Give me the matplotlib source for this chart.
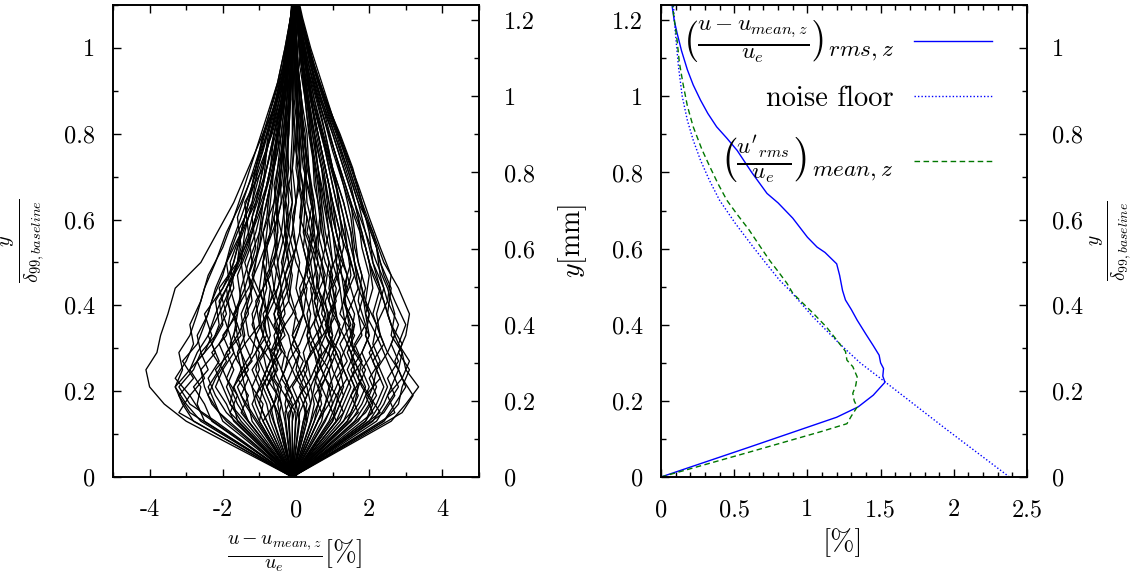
import matplotlib
matplotlib.use('Agg')
import matplotlib.pyplot as plt
from matplotlib.ticker import MultipleLocator, FixedLocator, FixedFormatter

# ---------------- data ----------------
# left panel: spanwise deviation profiles, x [%] at y/delta levels (two sampling grids)
x_origin = -0.1
y_levels_a = [0.0, 0.13, 0.17, 0.21, 0.25, 0.29, 0.33, 0.38, 0.44, 0.50,
              0.57, 0.64, 0.72, 0.80, 0.88, 0.96, 1.04, 1.10]
profiles_a = [
    [-3.0, -3.6, -4.0, -4.1, -3.8, -3.7, -3.5, -3.3, -2.6, -2.15, -1.7, -1.3, -0.9, -0.5, -0.25, -0.1, -0.05],
    [-2.6, -3.0, -3.3, -3.1, -3.2, -2.9, -2.7, -2.5, -2.2, -1.9, -1.5, -1.1, -0.8, -0.55, -0.35, -0.2, -0.1],
    [-2.2, -2.9, -3.2, -2.8, -2.6, -2.7, -2.4, -2.2, -1.9, -1.6, -1.2, -0.95, -0.7, -0.45, -0.3, -0.15, -0.08],
    [-2.5, -2.7, -2.6, -2.9, -2.5, -2.3, -2.5, -2.0, -1.7, -1.5, -1.3, -1.0, -0.65, -0.4, -0.2, -0.12, -0.1],
    [-2.3, -2.5, -2.8, -2.4, -2.6, -2.2, -1.9, -2.1, -1.6, -1.3, -1.4, -0.9, -0.75, -0.5, -0.3, -0.18, -0.1],
    [-1.9, -2.3, -2.5, -2.6, -2.2, -2.4, -2.1, -1.8, -1.9, -1.5, -1.1, -0.8, -0.6, -0.35, -0.25, -0.15, -0.12],
    [-2.0, -2.2, -2.4, -2.1, -1.9, -1.6, -1.7, -1.3, -1.0, -0.7, -0.5, -0.4, -0.3, -0.2, -0.15, -0.1, -0.08],
    [-1.7, -1.9, -2.2, -2.0, -2.3, -1.9, -1.8, -1.9, -1.5, -1.4, -1.2, -1.05, -0.8, -0.55, -0.35, -0.2, -0.1],
    [-1.5, -1.8, -2.0, -2.2, -1.8, -2.0, -1.6, -1.5, -1.3, -1.0, -0.9, -0.65, -0.5, -0.3, -0.2, -0.1, -0.05],
    [-1.6, -1.7, -1.9, -1.7, -1.9, -1.5, -1.7, -1.4, -1.5, -1.2, -1.0, -0.8, -0.55, -0.4, -0.22, -0.12, -0.1],
    [-1.4, -1.8, -1.7, -1.4, -1.1, -0.8, -0.9, -0.5, -0.3, -0.1, 0.0, 0.1, 0.05, 0.0, -0.05, -0.05, -0.05],
    [-1.3, -1.5, -1.7, -1.5, -1.6, -1.4, -1.5, -1.2, -1.1, -1.0, -0.8, -0.6, -0.5, -0.35, -0.2, -0.15, -0.1],
    [-1.1, -1.4, -1.6, -1.3, -1.5, -1.6, -1.3, -1.4, -1.2, -1.3, -1.1, -0.9, -0.7, -0.45, -0.25, -0.12, -0.08],
    [-1.2, -1.3, -1.4, -1.5, -1.2, -1.1, -1.2, -0.9, -0.8, -0.9, -0.6, -0.5, -0.4, -0.3, -0.2, -0.1, -0.1],
    [-0.9, -1.1, -1.2, -1.4, -1.5, -1.7, -1.6, -1.8, -1.6, -1.5, -1.3, -1.1, -0.9, -0.6, -0.35, -0.2, -0.1],
    [-1.0, -0.9, -1.2, -1.0, -1.1, -0.9, -1.0, -0.8, -0.9, -0.7, -0.6, -0.45, -0.35, -0.25, -0.15, -0.1, -0.08],
    [-0.8, -1.0, -0.9, -0.7, -0.4, -0.5, -0.1, 0.2, 0.3, 0.5, 0.45, 0.35, 0.3, 0.15, 0.05, 0.0, -0.05],
    [-0.7, -0.8, -1.0, -0.8, -0.9, -0.7, -0.8, -0.6, -0.7, -0.5, -0.5, -0.4, -0.3, -0.2, -0.15, -0.1, -0.1],
    [-0.6, -0.7, -0.9, -1.1, -1.0, -1.3, -1.4, -1.2, -1.4, -1.1, -0.9, -0.7, -0.6, -0.4, -0.3, -0.15, -0.1],
    [-0.5, -0.6, -0.8, -0.6, -0.7, -0.5, -0.6, -0.4, -0.5, -0.3, -0.35, -0.25, -0.2, -0.15, -0.1, -0.08, -0.05],
    [-0.5, -0.4, -0.6, -0.7, -0.5, -0.6, -0.3, -0.4, -0.2, -0.3, -0.1, -0.15, -0.1, -0.1, -0.05, -0.05, -0.05],
    [-0.4, -0.5, -0.4, -0.6, -0.7, -0.9, -0.8, -1.0, -0.9, -0.8, -0.7, -0.6, -0.5, -0.35, -0.25, -0.15, -0.1],
    [-0.3, -0.4, -0.5, -0.3, -0.2, 0.0, 0.2, 0.1, 0.4, 0.6, 0.7, 0.6, 0.45, 0.3, 0.15, 0.05, 0.0],
    [-0.2, -0.3, -0.2, -0.4, -0.3, -0.5, -0.4, -0.6, -0.5, -0.6, -0.4, -0.45, -0.3, -0.25, -0.2, -0.12, -0.1],
    [-0.2, -0.1, -0.3, -0.1, 0.1, -0.1, 0.2, 0.0, 0.1, -0.1, 0.0, -0.1, -0.05, -0.1, -0.05, -0.08, -0.05],
    [-0.1, 0.0, -0.2, -0.4, -0.6, -0.5, -0.8, -0.7, -0.9, -0.7, -0.8, -0.6, -0.4, -0.3, -0.2, -0.1, -0.1],
    [0.0, 0.1, -0.1, 0.2, 0.4, 0.3, 0.6, 0.8, 0.7, 0.9, 0.8, 0.7, 0.5, 0.35, 0.2, 0.1, 0.0],
    [0.1, 0.0, 0.2, 0.0, 0.1, -0.1, 0.0, -0.2, -0.1, -0.3, -0.2, -0.25, -0.2, -0.15, -0.12, -0.1, -0.08],
    [0.2, 0.3, 0.1, 0.3, 0.2, 0.4, 0.3, 0.5, 0.3, 0.4, 0.2, 0.25, 0.15, 0.1, 0.05, 0.0, -0.02],
    [0.2, 0.4, 0.3, 0.1, -0.1, -0.2, -0.5, -0.4, -0.6, -0.5, -0.55, -0.4, -0.35, -0.25, -0.15, -0.1, -0.05],
    [0.3, 0.4, 0.5, 0.6, 0.8, 1.0, 0.9, 1.2, 1.1, 1.0, 0.9, 0.75, 0.55, 0.4, 0.25, 0.1, 0.02],
    [0.4, 0.5, 0.4, 0.6, 0.5, 0.3, 0.4, 0.2, 0.3, 0.1, 0.15, 0.0, 0.05, -0.05, -0.05, -0.08, -0.05],
    [0.5, 0.6, 0.7, 0.5, 0.7, 0.6, 0.8, 0.6, 0.5, 0.6, 0.4, 0.35, 0.2, 0.15, 0.05, 0.0, -0.03],
    [0.5, 0.7, 0.6, 0.8, 1.0, 1.2, 1.4, 1.3, 1.5, 1.3, 1.1, 0.9, 0.7, 0.45, 0.3, 0.15, 0.05],
    [0.6, 0.8, 0.9, 0.7, 0.6, 0.4, 0.2, 0.3, 0.0, -0.2, -0.1, -0.3, -0.2, -0.2, -0.15, -0.1, -0.08],
    [0.7, 0.8, 1.0, 0.9, 1.1, 0.9, 1.0, 0.8, 0.9, 0.7, 0.6, 0.5, 0.35, 0.25, 0.1, 0.05, 0.0],
    [0.8, 1.0, 0.9, 1.1, 1.3, 1.5, 1.4, 1.7, 1.6, 1.5, 1.3, 1.0, 0.8, 0.55, 0.3, 0.15, 0.05],
    [0.9, 1.1, 1.2, 1.0, 0.9, 1.0, 0.7, 0.8, 0.6, 0.5, 0.3, 0.25, 0.15, 0.05, 0.0, -0.05, -0.05],
    [1.0, 1.1, 1.3, 1.2, 1.0, 1.2, 1.1, 0.9, 1.0, 0.8, 0.7, 0.55, 0.4, 0.3, 0.15, 0.05, 0.0],
    [1.0, 1.2, 1.4, 1.6, 1.5, 1.8, 1.7, 1.9, 1.7, 1.6, 1.5, 1.2, 0.9, 0.6, 0.35, 0.15, 0.05],
    [1.1, 1.3, 1.5, 1.3, 1.2, 0.9, 0.8, 0.5, 0.4, 0.2, 0.25, 0.1, 0.1, 0.0, -0.05, -0.05, -0.05],
    [1.2, 1.4, 1.6, 1.4, 1.6, 1.4, 1.3, 1.2, 1.0, 0.9, 0.75, 0.6, 0.45, 0.3, 0.15, 0.05, 0.0],
    [1.3, 1.5, 1.7, 1.5, 1.8, 2.0, 1.9, 2.1, 2.0, 1.8, 1.6, 1.3, 1.0, 0.65, 0.4, 0.2, 0.05],
    [1.4, 1.6, 1.7, 1.9, 1.6, 1.5, 1.6, 1.3, 1.2, 1.0, 0.8, 0.6, 0.5, 0.3, 0.2, 0.1, 0.0],
    [1.4, 1.7, 1.9, 1.7, 1.5, 1.3, 1.0, 1.1, 0.8, 0.6, 0.5, 0.35, 0.2, 0.1, 0.05, 0.0, -0.03],
    [1.5, 1.8, 2.0, 1.8, 2.1, 1.9, 2.0, 1.8, 1.6, 1.5, 1.3, 1.0, 0.75, 0.5, 0.3, 0.15, 0.03],
    [1.6, 1.9, 2.1, 2.2, 2.0, 2.3, 2.1, 2.3, 2.1, 1.9, 1.7, 1.4, 1.1, 0.75, 0.45, 0.2, 0.05],
    [1.7, 2.0, 2.2, 2.0, 1.8, 2.0, 1.7, 1.5, 1.3, 1.1, 0.9, 0.7, 0.5, 0.35, 0.2, 0.1, 0.0],
    [1.9, 2.2, 2.4, 2.2, 2.5, 2.3, 2.2, 2.4, 2.1, 2.0, 1.8, 1.55, 1.2, 0.8, 0.5, 0.25, 0.05],
    [2.0, 2.3, 2.5, 2.3, 2.1, 1.9, 2.0, 1.7, 1.5, 1.2, 1.0, 0.8, 0.6, 0.4, 0.25, 0.1, 0.0],
    [2.1, 2.4, 2.6, 2.8, 2.5, 2.7, 2.5, 2.6, 2.3, 2.1, 1.8, 1.5, 1.15, 0.8, 0.45, 0.2, 0.05],
    [2.2, 2.5, 2.8, 2.6, 2.4, 2.2, 1.9, 1.8, 1.6, 1.4, 1.2, 0.95, 0.7, 0.45, 0.25, 0.1, 0.0],
    [2.4, 2.7, 3.0, 2.8, 2.9, 2.6, 2.7, 2.5, 2.2, 1.9, 1.6, 1.3, 1.0, 0.7, 0.4, 0.2, 0.05],
    [2.4, 2.8, 2.9, 3.1, 2.8, 3.0, 3.1, 2.8, 2.4, 2.1, 1.7, 1.4, 1.05, 0.7, 0.4, 0.2, 0.05],
    [2.6, 3.0, 3.35, 3.0, 2.9, 2.7, 2.5, 2.3, 2.0, 1.8, 1.5, 1.2, 0.9, 0.6, 0.35, 0.15, 0.05],
    [-2.8, -3.1, -3.3, -2.9, -2.7, -2.4, -2.2, -1.9, -1.6, -1.2, -0.9, -0.7, -0.5, -0.3, -0.2, -0.12, -0.08],
    [-0.4, -0.6, -0.5, -0.8, -0.6, -0.4, -0.6, -0.3, -0.1, 0.1, 0.2, 0.3, 0.2, 0.15, 0.05, 0.0, -0.03],
    [0.6, 0.9, 1.1, 1.3, 1.1, 0.8, 0.9, 0.6, 0.7, 0.4, 0.5, 0.3, 0.25, 0.1, 0.05, 0.0, -0.03],
    [-1.0, -1.2, -1.0, -1.2, -0.9, -1.1, -0.8, -0.9, -0.6, -0.4, -0.3, -0.1, 0.0, 0.05, 0.0, -0.03, -0.05],
    [0.3, 0.2, 0.4, 0.2, 0.4, 0.7, 0.5, 0.4, 0.6, 0.3, 0.45, 0.2, 0.1, 0.05, 0.0, -0.05, -0.05],
    [-1.3, -1.6, -1.8, -2.0, -1.7, -1.8, -2.0, -1.7, -1.8, -1.5, -1.3, -1.1, -0.85, -0.55, -0.3, -0.15, -0.08],
    [1.9, 2.1, 1.8, 1.6, 1.4, 1.6, 1.2, 1.4, 1.1, 1.2, 1.0, 0.8, 0.6, 0.4, 0.2, 0.1, 0.0],
    [-0.9, -0.6, -0.8, -0.5, -0.7, -0.3, -0.5, -0.2, -0.4, -0.2, -0.3, -0.2, -0.25, -0.15, -0.1, -0.1, -0.05],
    [1.1, 0.9, 0.7, 0.9, 0.6, 0.8, 1.1, 1.0, 1.3, 1.1, 1.0, 0.8, 0.6, 0.4, 0.25, 0.1, 0.02],
]
y_levels_b = [0.0, 0.15, 0.19, 0.23, 0.27, 0.31, 0.355, 0.41, 0.47, 0.535,
              0.605, 0.68, 0.76, 0.84, 0.92, 1.00, 1.07, 1.12]
profiles_b = [
    [-3.2, -2.9, -3.3, -3.0, -2.8, -2.9, -2.6, -2.4, -2.0, -1.7, -1.4, -1.1, -0.8, -0.5, -0.3, -0.15, -0.08],
    [-2.6, -2.9, -2.5, -2.7, -2.3, -2.1, -2.2, -1.8, -1.6, -1.3, -1.0, -0.8, -0.55, -0.35, -0.2, -0.12, -0.1],
    [-2.1, -2.4, -2.2, -1.9, -2.1, -1.8, -1.5, -1.6, -1.3, -1.1, -0.9, -0.7, -0.5, -0.3, -0.2, -0.1, -0.08],
    [-1.8, -1.6, -1.9, -1.7, -1.4, -1.5, -1.2, -1.3, -1.0, -0.8, -0.7, -0.5, -0.4, -0.25, -0.15, -0.1, -0.08],
    [-1.5, -1.3, -1.6, -1.2, -1.4, -1.0, -1.1, -0.7, -0.8, -0.5, -0.6, -0.4, -0.3, -0.2, -0.12, -0.1, -0.08],
    [-1.2, -1.5, -1.3, -1.6, -1.8, -1.6, -1.9, -1.7, -1.5, -1.6, -1.3, -1.0, -0.75, -0.5, -0.3, -0.15, -0.1],
    [-0.9, -1.1, -0.8, -1.0, -0.7, -0.9, -0.6, -0.8, -0.5, -0.6, -0.4, -0.3, -0.25, -0.15, -0.1, -0.08, -0.05],
    [-0.7, -0.5, -0.8, -0.6, -0.4, -0.6, -0.2, -0.3, 0.0, -0.1, 0.1, 0.0, 0.05, 0.0, -0.03, -0.05, -0.05],
    [-0.5, -0.7, -0.9, -0.7, -1.0, -1.2, -1.0, -1.3, -1.1, -1.2, -0.9, -0.8, -0.6, -0.4, -0.25, -0.12, -0.1],
    [-0.3, -0.1, -0.4, -0.2, -0.5, -0.3, -0.6, -0.4, -0.3, -0.5, -0.3, -0.35, -0.2, -0.15, -0.1, -0.08, -0.05],
    [-0.1, -0.3, 0.0, -0.2, 0.1, 0.3, 0.1, 0.4, 0.2, 0.3, 0.1, 0.15, 0.05, 0.0, -0.02, -0.05, -0.05],
    [0.1, 0.3, 0.0, 0.2, -0.1, 0.1, -0.2, -0.1, -0.3, -0.2, -0.35, -0.25, -0.2, -0.15, -0.12, -0.1, -0.08],
    [0.3, 0.1, 0.4, 0.6, 0.4, 0.7, 0.5, 0.8, 0.6, 0.7, 0.5, 0.45, 0.3, 0.2, 0.1, 0.03, 0.0],
    [0.5, 0.7, 0.5, 0.8, 1.0, 0.8, 1.1, 0.9, 1.2, 1.0, 0.9, 0.7, 0.5, 0.35, 0.2, 0.08, 0.0],
    [0.7, 0.5, 0.8, 0.6, 0.9, 0.7, 0.5, 0.6, 0.4, 0.5, 0.3, 0.2, 0.15, 0.05, 0.0, -0.03, -0.05],
    [0.9, 1.1, 0.8, 1.0, 0.7, 0.5, 0.6, 0.3, 0.4, 0.1, 0.2, 0.0, -0.05, -0.1, -0.08, -0.08, -0.05],
    [1.1, 1.3, 1.1, 1.4, 1.2, 1.5, 1.3, 1.6, 1.4, 1.3, 1.1, 0.9, 0.7, 0.45, 0.25, 0.1, 0.02],
    [1.3, 1.1, 1.4, 1.2, 1.0, 1.2, 0.9, 1.0, 0.8, 0.7, 0.6, 0.45, 0.35, 0.2, 0.1, 0.03, 0.0],
    [1.5, 1.7, 1.5, 1.8, 1.6, 1.9, 1.7, 1.8, 1.6, 1.5, 1.3, 1.05, 0.8, 0.55, 0.3, 0.12, 0.03],
    [1.7, 1.5, 1.8, 1.6, 1.4, 1.6, 1.3, 1.4, 1.1, 0.9, 0.8, 0.6, 0.4, 0.25, 0.12, 0.05, 0.0],
    [1.9, 2.2, 2.0, 2.3, 2.1, 2.2, 1.9, 2.0, 1.8, 1.7, 1.5, 1.2, 0.9, 0.6, 0.35, 0.15, 0.03],
    [2.1, 1.9, 2.3, 2.1, 2.4, 2.2, 2.5, 2.3, 2.2, 1.9, 1.6, 1.3, 1.0, 0.7, 0.4, 0.18, 0.05],
    [2.4, 2.7, 2.5, 2.8, 2.6, 2.8, 2.5, 2.6, 2.3, 2.0, 1.7, 1.35, 1.0, 0.65, 0.35, 0.15, 0.03],
    [2.7, 2.5, 2.9, 3.1, 2.8, 3.0, 2.7, 2.4, 2.2, 1.9, 1.6, 1.3, 0.95, 0.6, 0.35, 0.15, 0.03],
    [2.9, 3.2, 2.9, 2.7, 2.9, 2.6, 2.4, 2.1, 1.9, 1.6, 1.3, 1.0, 0.75, 0.5, 0.3, 0.12, 0.02],
    [-2.9, -3.2, -2.8, -3.1, -2.7, -2.5, -2.3, -2.0, -1.8, -1.5, -1.2, -0.9, -0.65, -0.4, -0.25, -0.12, -0.08],
    [-0.2, 0.1, 0.4, 0.3, 0.6, 0.9, 0.8, 1.1, 1.3, 1.2, 1.1, 0.85, 0.6, 0.4, 0.22, 0.08, 0.0],
    [0.0, -0.3, -0.6, -0.5, -0.8, -1.0, -0.9, -1.2, -1.0, -0.9, -0.7, -0.55, -0.4, -0.3, -0.2, -0.1, -0.08],
    [2.3, 2.0, 1.7, 1.8, 1.5, 1.6, 1.3, 1.5, 1.4, 1.2, 1.0, 0.8, 0.55, 0.35, 0.2, 0.08, 0.0],
    [-1.9, -2.2, -2.4, -2.1, -2.3, -2.0, -2.1, -1.7, -1.4, -1.1, -0.8, -0.6, -0.45, -0.3, -0.2, -0.1, -0.08],
]

# right panel (x in %, y in mm)
rms_x = [0, 0.6, 1.2, 1.346, 1.45, 1.53, 1.515, 1.52, 1.50, 1.49, 1.45, 1.40, 1.34, 1.30, 1.26,
         1.24, 1.22, 1.20, 1.12, 1.066, 1.0, 0.90, 0.80, 0.724, 0.62, 0.52, 0.45, 0.38, 0.32,
         0.27, 0.22, 0.18, 0.14, 0.11, 0.09, 0.075]
rms_y = [0, 0.078, 0.157, 0.184, 0.215, 0.249, 0.265, 0.285, 0.300, 0.32, 0.345, 0.375, 0.412,
         0.44, 0.465, 0.49, 0.53, 0.56, 0.59, 0.604, 0.63, 0.68, 0.72, 0.745, 0.80, 0.858, 0.89,
         0.92, 0.955, 0.99, 1.03, 1.07, 1.12, 1.166, 1.20, 1.24]
noise_x = [2.38, 1.95, 1.53, 1.36, 1.22, 1.04, 0.88, 0.81, 0.72, 0.63, 0.51, 0.40, 0.33, 0.27,
           0.22, 0.18, 0.145, 0.12, 0.095, 0.085]
noise_y = [0, 0.125, 0.25, 0.30, 0.35, 0.42, 0.49, 0.517, 0.56, 0.604, 0.665, 0.727, 0.78, 0.832,
           0.885, 0.937, 1.0, 1.076, 1.18, 1.24]
mean_x = [0, 0.6, 1.1, 1.27, 1.30, 1.34, 1.32, 1.31, 1.33, 1.34, 1.31, 1.27, 1.26, 1.2, 1.13, 1.04,
          0.96, 0.90, 0.86, 0.80, 0.74, 0.68, 0.60, 0.52, 0.45, 0.39, 0.335, 0.28, 0.22, 0.18,
          0.15, 0.125, 0.11, 0.085, 0.08]
mean_y = [0, 0.065, 0.12, 0.14, 0.16, 0.184, 0.20, 0.22, 0.24, 0.263, 0.29, 0.307, 0.33, 0.36,
          0.394, 0.43, 0.46, 0.483, 0.509, 0.54, 0.57, 0.604, 0.65, 0.69, 0.727, 0.77, 0.814,
          0.86, 0.92, 0.975, 1.034, 1.09, 1.147, 1.218, 1.24]

left_xticks = [-4, -2, 0, 2, 4]
left_xlabels = ['-4', '-2', '0', '2', '4']
delta_ticks = [0, 0.2, 0.4, 0.6, 0.8, 1.0]
delta_labels = ['0', '0.2', '0.4', '0.6', '0.8', '1']
mm_ticks = [0, 0.2, 0.4, 0.6, 0.8, 1.0, 1.2]
mm_labels = ['0', '0.2', '0.4', '0.6', '0.8', '1', '1.2']
right_xticks = [0, 0.5, 1.0, 1.5, 2.0, 2.5]
right_xlabels = ['0', '0.5', '1', '1.5', '2', '2.5']
legend_labels = [r'$\left(\frac{u-u_{mean,z}}{u_e}\right)_{rms,z}$',
                 'noise floor',
                 r"$\left(\frac{u'_{rms}}{u_e}\right)_{mean,z}$"]

# ---------------- style ----------------
plt.rcParams.update({
    'font.family': 'serif', 'font.serif': ['cmr10'], 'mathtext.fontset': 'cm',
    'axes.formatter.use_mathtext': True, 'font.size': 17.5, 'axes.linewidth': 1.2,
    'xtick.direction': 'in', 'ytick.direction': 'in',
    'xtick.major.size': 6, 'ytick.major.size': 6,
    'xtick.minor.size': 3.5, 'ytick.minor.size': 3.5,
    'xtick.major.width': 1.0, 'ytick.major.width': 1.0,
    'xtick.minor.width': 1.0, 'ytick.minor.width': 1.0,
})

fig = plt.figure(figsize=(11.36, 5.76), dpi=100)
W, H = 1136, 576
axL = fig.add_axes([113 / W, (H - 477) / H, 366 / W, 472 / H])
axR = fig.add_axes([661 / W, (H - 477) / H, 366 / W, 472 / H])

ymax_delta = 1.1
ymax_mm = 1.24

# left panel
for p in profiles_a:
    axL.plot([x_origin] + p, y_levels_a, color='black', lw=0.95)
for p in profiles_b:
    axL.plot([x_origin] + p, y_levels_b, color='black', lw=0.95)
axL.set_xlim(-5, 5)
axL.set_ylim(0, ymax_delta)
axL.xaxis.set_major_locator(FixedLocator(left_xticks))
axL.xaxis.set_major_formatter(FixedFormatter(left_xlabels))
axL.xaxis.set_minor_locator(MultipleLocator(1))
axL.yaxis.set_major_locator(FixedLocator(delta_ticks))
axL.yaxis.set_major_formatter(FixedFormatter(delta_labels))
axL.yaxis.set_minor_locator(MultipleLocator(0.1))
axL.tick_params(which='both', top=True, right=False)
axL.tick_params(axis='y', pad=13)
axL.tick_params(axis='x', pad=16)
axL.set_ylabel(r'$\frac{y}{\delta_{99,baseline}}$', fontsize=21)
axL.yaxis.set_label_coords(-0.183, 0.5)
axL.set_xlabel(r'$\frac{u-u_{mean,z}}{u_e}$[%]', fontsize=20.5)
axL.xaxis.set_label_coords(0.497, -0.118)

axL2 = axL.twinx()
axL2.set_ylim(0, ymax_mm)
axL2.yaxis.set_major_locator(FixedLocator(mm_ticks))
axL2.yaxis.set_major_formatter(FixedFormatter(mm_labels))
axL2.yaxis.set_minor_locator(MultipleLocator(0.1))
axL2.tick_params(axis='y', which='both', right=True, left=False, pad=18)

# right panel
axR.plot(rms_x, rms_y, color='#0000ff', lw=1.0, label=legend_labels[0])
axR.plot(noise_x, noise_y, color='#0000ff', lw=1.0, ls=(0, (1, 1.5)), label=legend_labels[1])
axR.plot(mean_x, mean_y, color='#007700', lw=1.0, ls=(0, (4, 2.5)), label=legend_labels[2])
axR.set_xlim(0, 2.5)
axR.set_ylim(0, ymax_mm)
axR.xaxis.set_major_locator(FixedLocator(right_xticks))
axR.xaxis.set_major_formatter(FixedFormatter(right_xlabels))
axR.xaxis.set_minor_locator(MultipleLocator(0.1))
axR.yaxis.set_major_locator(FixedLocator(mm_ticks))
axR.yaxis.set_major_formatter(FixedFormatter(mm_labels))
axR.yaxis.set_minor_locator(MultipleLocator(0.1))
axR.tick_params(which='both', top=True, right=False)
axR.tick_params(axis='y', pad=13)
axR.tick_params(axis='x', pad=16)
axR.set_ylabel(r'$y$[mm]', fontsize=20)
axR.yaxis.set_label_coords(-0.197, 0.5)
axR.set_xlabel('[%]', fontsize=21)
axR.xaxis.set_label_coords(0.497, -0.108)

axR2 = axR.twinx()
axR2.set_ylim(0, ymax_delta)
axR2.yaxis.set_major_locator(FixedLocator(delta_ticks))
axR2.yaxis.set_major_formatter(FixedFormatter(delta_labels))
axR2.yaxis.set_minor_locator(MultipleLocator(0.1))
axR2.tick_params(axis='y', which='both', right=True, left=False, pad=18)
axR2.set_ylabel(r'$\frac{y}{\delta_{99,baseline}}$', fontsize=20)
axR2.yaxis.set_label_coords(1.168, 0.5)

leg = axR.legend(loc='upper right', bbox_to_anchor=(0.904, 0.972), frameon=False,
                 markerfirst=False, handlelength=2.75, handletextpad=0.7,
                 labelspacing=0.74, borderpad=0.0, borderaxespad=0.0, fontsize=20.5)
texts = leg.get_texts()
texts[0].set_fontsize(24)
texts[2].set_fontsize(24)

fig.savefig('out.png', dpi=100)
